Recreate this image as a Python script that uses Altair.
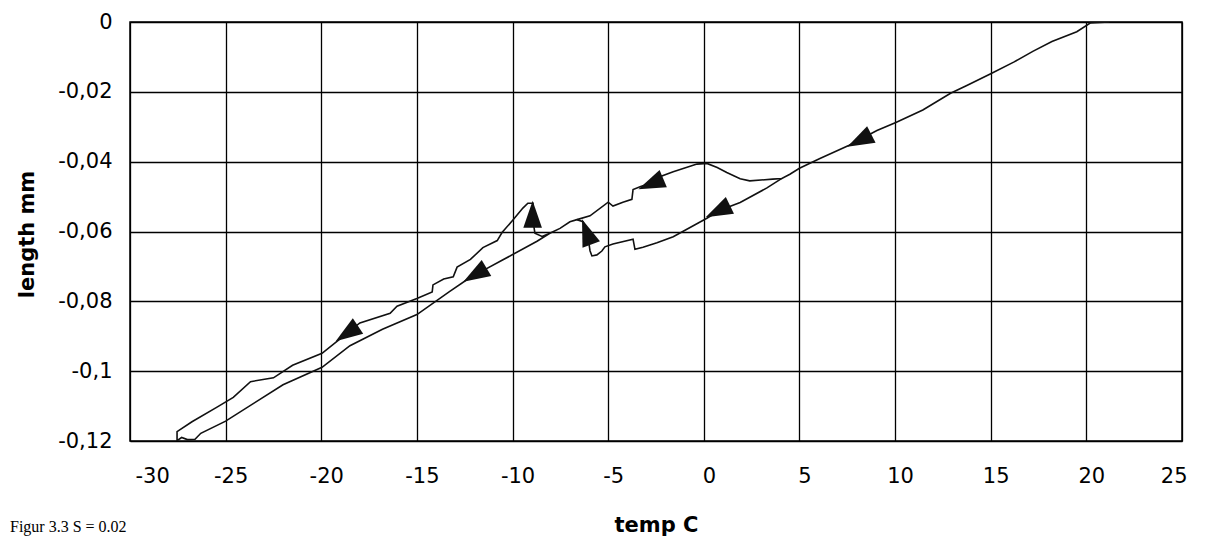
import altair as alt
import pandas as pd

# ---------------- data ----------------
# main trace: cooling from +21 C, hump near 0 C, down the middle/lower line to the
# bottom tip, back up the wavy upper branch to the small peak near -9 C
main_x = [21.2, 20.2, 19.5, 18.2, 17.2, 16.2, 15.0, 13.75, 12.9, 11.45, 10.04, 9.05, 7.6, 6.07, 5.0,
          4.5, 4.08, 3.6, 2.4, 1.9, 1.2, 0.7, 0.16, -0.36, -1.6, -2.3, -2.66, -3.3, -3.7,
          -3.76, -4.23, -4.75, -5.0, -5.95, -6.63, -7.0, -7.52, -8.05, -8.72, -10.5, -11.55,
          -12.2, -13.3, -15.0, -16.8, -18.5, -19.96, -22.0, -25.0, -26.3, -26.6, -27.0, -27.3,
          -27.54, -27.54, -26.76, -25.45, -24.6, -23.7, -22.5, -21.5, -19.96, -19.0, -18.65,
          -17.98, -16.4, -16.04, -15.0, -14.2, -14.16, -13.6, -13.1, -12.9, -12.2, -11.55,
          -10.8, -10.55, -9.98, -9.46, -9.2, -8.93, -8.93, -8.83, -8.46, -8.05]
main_y = [0.0, -0.0003, -0.0028, -0.0056, -0.0084, -0.0115, -0.0148, -0.0182, -0.0204, -0.0252,
          -0.0288, -0.0311, -0.0353, -0.0391, -0.0419,
          -0.0436, -0.0448, -0.045, -0.0455, -0.0449, -0.0431, -0.0417, -0.0405, -0.0407,
          -0.0429, -0.0443, -0.046, -0.0471, -0.048,
          -0.0508, -0.0516, -0.0527, -0.0516, -0.0555, -0.0566, -0.0572, -0.0591, -0.0605,
          -0.0628, -0.0681, -0.0712,
          -0.0731, -0.0772, -0.0838, -0.088, -0.0927, -0.0989, -0.1039, -0.1143, -0.1178,
          -0.1195, -0.1196, -0.119,
          -0.1199, -0.1173, -0.1145, -0.1103, -0.1075, -0.103, -0.1019, -0.0983, -0.0949,
          -0.0907, -0.089,
          -0.0862, -0.0834, -0.0814, -0.0792, -0.0773, -0.0753, -0.0736, -0.073, -0.0702,
          -0.068, -0.0646,
          -0.0626, -0.0603, -0.0567, -0.0533, -0.0519, -0.0519, -0.057, -0.0605, -0.0614,
          -0.0605]

# second cooling branch below the hump, with its small step and hook near -6 C
branch_x = [4.08, 3.3, 1.9, 0.84, 0.16, -1.6, -2.45, -3.18, -3.6, -3.7, -4.75, -5.17, -5.33,
            -5.59, -5.85, -5.95, -6.1, -6.22, -6.32, -6.63]
branch_y = [-0.0448, -0.0475, -0.0517, -0.0539, -0.0562, -0.0615, -0.0632, -0.0645, -0.0651,
            -0.0622, -0.0636, -0.0644, -0.0656, -0.0667, -0.067, -0.0655, -0.0598, -0.0583,
            -0.0572, -0.0566]

# direction arrows drawn on the trace (heading in degrees, clockwise from "pointing left")
arrow_x = [8.2, -2.7, 0.8, -18.6, -11.9, -8.95, -6.1]
arrow_y = [-0.0338, -0.0462, -0.054, -0.089, -0.0722, -0.0555, -0.0605]
arrow_heading = [333, 337, 334, 326, 329, 90, 70]

x_ticks = [-30, -25, -20, -15, -10, -5, 0, 5, 10, 15, 20, 25]
y_ticks = [0, -0.02, -0.04, -0.06, -0.08, -0.1, -0.12]

caption = ["Figur 3.3  S = 0.02"]

# ---------------- tables ----------------
rows = []
for i, (x, y) in enumerate(zip(main_x, main_y)):
    rows.append({"temp": x, "length": y, "seg": "main", "order": i})
for i, (x, y) in enumerate(zip(branch_x, branch_y)):
    rows.append({"temp": x, "length": y, "seg": "branch", "order": i})
df = pd.DataFrame(rows)

arrows = pd.DataFrame({"temp": arrow_x, "length": arrow_y, "angle": arrow_heading})
cap_df = pd.DataFrame({"t": caption})

xs = alt.Scale(domain=[-30, 25], nice=False, zero=False)
ys = alt.Scale(domain=[-0.12, 0], nice=False, zero=False)

x_enc = alt.X("temp:Q", scale=xs,
              axis=alt.Axis(values=x_ticks, title="temp C",
                            labelExpr="toString(datum.value)"))
y_enc = alt.Y("length:Q", scale=ys,
              axis=alt.Axis(values=y_ticks, title="length mm",
                            labelExpr="replace(toString(datum.value), '.', ',')"))

lines = alt.Chart(df).mark_line(color="#111111", strokeWidth=1.6, clip=True).encode(
    x=x_enc, y=y_enc, detail="seg:N", order="order:Q"
)

# solid left-pointing arrowhead, rotated by the heading
head_path = "M-1,0L0.8,-0.62L0.8,0.62Z"
heads = alt.Chart(arrows).mark_point(shape=head_path, filled=True, color="#111111",
                                     size=900, opacity=1, strokeWidth=0).encode(
    x=alt.X("temp:Q", scale=xs),
    y=alt.Y("length:Q", scale=ys),
    angle=alt.Angle("angle:Q", scale=None),
)

cap = alt.Chart(cap_df).mark_text(align="left", baseline="top", font="Liberation Serif",
                                  fontSize=16, color="black").encode(
    x=alt.value(-120), y=alt.value(497), text="t:N"
)

chart = alt.layer(lines, heads, cap).properties(
    width=1052, height=419,
    padding={"left": 122, "top": 14, "right": 17, "bottom": 95},
    autosize=alt.AutoSizeParams(type="none"),
).configure_view(
    stroke="black", strokeWidth=1.5
).configure_axis(
    grid=True, gridColor="black", gridOpacity=1, gridWidth=1.3,
    domain=False, ticks=False,
    labelColor="black", labelFont="DejaVu Sans", labelFontSize=21,
    titleFont="DejaVu Sans", titleFontSize=21, titleFontWeight="bold", titleColor="black",
).configure_axisX(
    labelPadding=24, labelOffset=5, titleY=90, titleBaseline="alphabetic"
).configure_axisY(
    labelPadding=18, titleX=-97, titleY=212, titleAngle=270, titleBaseline="alphabetic"
)

chart.save("out.html", embed_options={"renderer": "svg", "actions": False})
